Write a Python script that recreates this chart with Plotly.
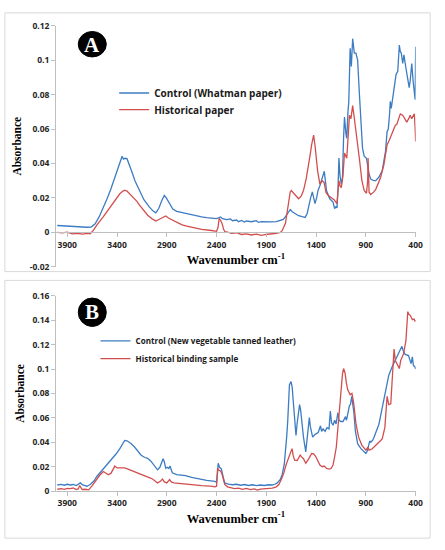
import plotly.graph_objects as go

# ---------------- Panel A: paper ----------------
a_ctrl_wn = [4000, 3950, 3900, 3850, 3800, 3750, 3700, 3660, 3620, 3580, 3540, 3500, 3460, 3420, 3385, 3360, 3349, 3335, 3320, 3300, 3280, 3250, 3220, 3174, 3130, 3076, 3040, 3010, 2980, 2950, 2925, 2905, 2880, 2860, 2840, 2800, 2750, 2700, 2650, 2600, 2550, 2500, 2450, 2400, 2380, 2360, 2340, 2300, 2260, 2240, 2200, 2180, 2150, 2120, 2100, 2050, 2000, 1980, 1950, 1900, 1850, 1800, 1760, 1730, 1708, 1680, 1659, 1640, 1610, 1576, 1540, 1510, 1490, 1478, 1455, 1438, 1425, 1411, 1395, 1380, 1362, 1345, 1329, 1318, 1305, 1296, 1263, 1230, 1214, 1200, 1190, 1180, 1171, 1160, 1147, 1135, 1124, 1115, 1100, 1092, 1080, 1072, 1058, 1046, 1033, 1025, 1016, 1000, 983, 966, 950, 934, 917, 900, 894, 880, 868, 851, 820, 801, 770, 736, 720, 703, 687, 675, 663, 655, 645, 625, 610, 597, 580, 564, 555, 544, 530, 518, 498, 485, 465, 455, 439, 426, 413, 405, 400]
a_ctrl = [0.0040, 0.0038, 0.0036, 0.0034, 0.0035, 0.0032, 0.0030, 0.0031, 0.0050, 0.0090, 0.0140, 0.0195, 0.0255, 0.0320, 0.0375, 0.0420, 0.0442, 0.0425, 0.0430, 0.0428, 0.0400, 0.0350, 0.0300, 0.0243, 0.0190, 0.0148, 0.0125, 0.0114, 0.0140, 0.0185, 0.0214, 0.0200, 0.0176, 0.0150, 0.0135, 0.0122, 0.0115, 0.0108, 0.0100, 0.0095, 0.0090, 0.0086, 0.0082, 0.0080, 0.0085, 0.0090, 0.0080, 0.0074, 0.0078, 0.0068, 0.0072, 0.0062, 0.0069, 0.0060, 0.0066, 0.0062, 0.0068, 0.0058, 0.0062, 0.0060, 0.0061, 0.0063, 0.0068, 0.0075, 0.0091, 0.0120, 0.0133, 0.0120, 0.0108, 0.0097, 0.0091, 0.0087, 0.0110, 0.0148, 0.0200, 0.0235, 0.0200, 0.0167, 0.0200, 0.0245, 0.0271, 0.0300, 0.0337, 0.0355, 0.0290, 0.0243, 0.0195, 0.0176, 0.0138, 0.0150, 0.0142, 0.0250, 0.0432, 0.0330, 0.0280, 0.0320, 0.0550, 0.0670, 0.0570, 0.0546, 0.0700, 0.0755, 0.1068, 0.0963, 0.1124, 0.1080, 0.1040, 0.1040, 0.1000, 0.0812, 0.0622, 0.0489, 0.0442, 0.0430, 0.0430, 0.0380, 0.0337, 0.0309, 0.0300, 0.0300, 0.0320, 0.0357, 0.0420, 0.0470, 0.0584, 0.0600, 0.0679, 0.0760, 0.0720, 0.0800, 0.0850, 0.0916, 0.0935, 0.1087, 0.1050, 0.1040, 0.0980, 0.1030, 0.0954, 0.0906, 0.0840, 0.0880, 0.0980, 0.0880, 0.0783, 0.0770, 0.1077]

a_hist_wn = [4000, 3950, 3900, 3850, 3800, 3750, 3700, 3670, 3640, 3600, 3537, 3490, 3438, 3400, 3372, 3340, 3323, 3300, 3270, 3240, 3200, 3174, 3130, 3092, 3050, 3010, 2970, 2930, 2911, 2880, 2845, 2800, 2746, 2700, 2615, 2550, 2450, 2400, 2385, 2374, 2360, 2345, 2330, 2318, 2280, 2250, 2200, 2150, 2100, 2050, 2000, 1950, 1900, 1850, 1800, 1760, 1741, 1708, 1682, 1660, 1649, 1620, 1590, 1576, 1550, 1527, 1500, 1478, 1460, 1445, 1425, 1410, 1395, 1385, 1362, 1340, 1320, 1300, 1280, 1246, 1220, 1191, 1180, 1171, 1160, 1147, 1130, 1115, 1092, 1080, 1065, 1050, 1033, 1020, 993, 966, 940, 917, 894, 882, 878, 872, 868, 851, 820, 801, 770, 752, 719, 700, 687, 663, 640, 630, 604, 590, 570, 554, 530, 510, 489, 470, 455, 440, 425, 413, 405, 400]
a_hist = [0.0000, -0.0003, 0.0002, -0.0008, -0.0005, -0.0010, -0.0006, -0.0008, 0.0010, 0.0045, 0.0091, 0.0130, 0.0176, 0.0205, 0.0224, 0.0240, 0.0245, 0.0240, 0.0222, 0.0205, 0.0180, 0.0158, 0.0125, 0.0100, 0.0080, 0.0066, 0.0078, 0.0093, 0.0095, 0.0082, 0.0072, 0.0058, 0.0044, 0.0036, 0.0025, 0.0018, 0.0011, 0.0006, 0.0030, 0.0081, 0.0070, 0.0052, 0.0020, 0.0005, 0.0000, -0.0005, -0.0002, -0.0012, -0.0008, -0.0015, -0.0010, -0.0017, -0.0012, -0.0010, -0.0005, 0.0000, 0.0010, 0.0053, 0.0167, 0.0235, 0.0243, 0.0226, 0.0205, 0.0195, 0.0210, 0.0243, 0.0310, 0.0375, 0.0450, 0.0508, 0.0565, 0.0500, 0.0420, 0.0357, 0.0280, 0.0300, 0.0290, 0.0230, 0.0215, 0.0201, 0.0190, 0.0167, 0.0240, 0.0300, 0.0270, 0.0260, 0.0330, 0.0460, 0.0430, 0.0560, 0.0679, 0.0660, 0.0736, 0.0680, 0.0565, 0.0432, 0.0300, 0.0243, 0.0227, 0.0300, 0.0432, 0.0300, 0.0233, 0.0220, 0.0235, 0.0250, 0.0290, 0.0319, 0.0394, 0.0450, 0.0508, 0.0537, 0.0570, 0.0593, 0.0622, 0.0626, 0.0660, 0.0688, 0.0680, 0.0660, 0.0640, 0.0660, 0.0680, 0.0660, 0.0680, 0.0688, 0.0600, 0.0527]

# ---------------- Panel B: leather ----------------
b_ctrl_wn = [4000, 3960, 3930, 3900, 3870, 3840, 3810, 3780, 3768, 3745, 3720, 3702, 3669, 3630, 3603, 3550, 3505, 3450, 3406, 3370, 3340, 3323, 3300, 3260, 3224, 3190, 3158, 3120, 3092, 3060, 3043, 3015, 2993, 2970, 2950, 2937, 2925, 2911, 2895, 2880, 2868, 2855, 2845, 2800, 2713, 2650, 2581, 2500, 2417, 2400, 2390, 2384, 2370, 2360, 2351, 2335, 2318, 2280, 2240, 2200, 2160, 2120, 2080, 2040, 2000, 1960, 1920, 1880, 1840, 1810, 1790, 1760, 1741, 1720, 1708, 1695, 1685, 1668, 1652, 1640, 1630, 1619, 1602, 1590, 1575, 1566, 1555, 1540, 1527, 1504, 1490, 1478, 1468, 1458, 1435, 1410, 1379, 1356, 1345, 1330, 1310, 1290, 1270, 1257, 1245, 1230, 1214, 1200, 1181, 1170, 1150, 1130, 1115, 1105, 1095, 1080, 1065, 1055, 1042, 1030, 1020, 1006, 983, 950, 917, 900, 885, 874, 862, 850, 830, 818, 790, 769, 736, 703, 670, 637, 604, 571, 538, 525, 505, 472, 460, 446, 433, 423, 406, 400]
b_ctrl = [0.0050, 0.0055, 0.0048, 0.0056, 0.0050, 0.0054, 0.0045, 0.0060, 0.0067, 0.0050, 0.0045, 0.0040, 0.0054, 0.0085, 0.0120, 0.0170, 0.0214, 0.0262, 0.0308, 0.0350, 0.0395, 0.0415, 0.0412, 0.0390, 0.0361, 0.0330, 0.0294, 0.0275, 0.0268, 0.0245, 0.0228, 0.0195, 0.0174, 0.0195, 0.0230, 0.0265, 0.0240, 0.0187, 0.0195, 0.0185, 0.0205, 0.0175, 0.0150, 0.0135, 0.0126, 0.0112, 0.0099, 0.0088, 0.0080, 0.0072, 0.0150, 0.0228, 0.0195, 0.0190, 0.0180, 0.0120, 0.0067, 0.0058, 0.0052, 0.0056, 0.0048, 0.0054, 0.0046, 0.0052, 0.0045, 0.0050, 0.0046, 0.0052, 0.0050, 0.0058, 0.0067, 0.0095, 0.0134, 0.0220, 0.0308, 0.0450, 0.0575, 0.0870, 0.0897, 0.0850, 0.0740, 0.0629, 0.0455, 0.0560, 0.0690, 0.0709, 0.0660, 0.0520, 0.0442, 0.0321, 0.0440, 0.0540, 0.0602, 0.0530, 0.0442, 0.0465, 0.0480, 0.0535, 0.0490, 0.0510, 0.0490, 0.0520, 0.0510, 0.0656, 0.0560, 0.0540, 0.0580, 0.0550, 0.0642, 0.0580, 0.0570, 0.0570, 0.0600, 0.0610, 0.0580, 0.0640, 0.0700, 0.0709, 0.0776, 0.0700, 0.0640, 0.0495, 0.0388, 0.0348, 0.0321, 0.0308, 0.0330, 0.0360, 0.0410, 0.0400, 0.0420, 0.0442, 0.0500, 0.0548, 0.0682, 0.0816, 0.0950, 0.1017, 0.1070, 0.1124, 0.1186, 0.1150, 0.1120, 0.1110, 0.1080, 0.1044, 0.1100, 0.1030, 0.1017, 0.1000]

b_hist_wn = [4000, 3960, 3930, 3900, 3870, 3840, 3810, 3790, 3775, 3750, 3720, 3685, 3653, 3620, 3570, 3537, 3500, 3488, 3460, 3440, 3422, 3400, 3370, 3340, 3323, 3290, 3250, 3208, 3150, 3109, 3070, 3043, 3015, 2993, 2965, 2944, 2925, 2900, 2872, 2855, 2830, 2760, 2700, 2647, 2550, 2460, 2417, 2400, 2390, 2375, 2360, 2345, 2330, 2318, 2290, 2260, 2220, 2180, 2140, 2100, 2060, 2020, 1990, 1960, 1920, 1880, 1840, 1800, 1774, 1750, 1725, 1700, 1675, 1655, 1642, 1630, 1616, 1590, 1575, 1560, 1545, 1527, 1504, 1485, 1470, 1445, 1425, 1405, 1379, 1362, 1339, 1320, 1296, 1270, 1250, 1230, 1214, 1197, 1185, 1171, 1160, 1147, 1135, 1124, 1110, 1095, 1082, 1058, 1040, 1023, 999, 973, 940, 900, 880, 868, 840, 818, 790, 769, 736, 709, 700, 687, 678, 670, 650, 640, 630, 617, 604, 578, 564, 550, 522, 498, 488, 479, 470, 455, 433, 416, 406, 400]
b_hist = [0.0015, 0.0020, 0.0015, 0.0022, 0.0020, 0.0025, 0.0012, 0.0018, 0.0045, 0.0013, 0.0015, 0.0010, 0.0040, 0.0080, 0.0134, 0.0160, 0.0140, 0.0134, 0.0147, 0.0180, 0.0205, 0.0190, 0.0190, 0.0188, 0.0190, 0.0180, 0.0168, 0.0153, 0.0133, 0.0120, 0.0108, 0.0099, 0.0080, 0.0067, 0.0080, 0.0099, 0.0075, 0.0067, 0.0094, 0.0075, 0.0067, 0.0060, 0.0057, 0.0054, 0.0045, 0.0040, 0.0035, 0.0040, 0.0187, 0.0170, 0.0165, 0.0140, 0.0080, 0.0054, 0.0035, 0.0027, 0.0020, 0.0025, 0.0015, 0.0022, 0.0012, 0.0018, 0.0008, 0.0016, 0.0018, 0.0022, 0.0025, 0.0035, 0.0054, 0.0095, 0.0147, 0.0220, 0.0281, 0.0320, 0.0348, 0.0290, 0.0254, 0.0250, 0.0270, 0.0294, 0.0280, 0.0265, 0.0228, 0.0250, 0.0270, 0.0308, 0.0305, 0.0285, 0.0240, 0.0214, 0.0200, 0.0205, 0.0187, 0.0180, 0.0185, 0.0214, 0.0280, 0.0361, 0.0480, 0.0629, 0.0750, 0.0870, 0.0960, 0.1004, 0.0970, 0.0880, 0.0830, 0.0789, 0.0800, 0.0723, 0.0548, 0.0442, 0.0375, 0.0335, 0.0360, 0.0335, 0.0345, 0.0361, 0.0385, 0.0401, 0.0428, 0.0522, 0.0650, 0.0776, 0.0740, 0.0709, 0.0715, 0.0850, 0.0977, 0.1164, 0.1070, 0.1030, 0.1004, 0.1070, 0.1124, 0.1230, 0.1350, 0.1470, 0.1450, 0.1440, 0.1405, 0.1410, 0.1390, 0.1400]

# ---------------- tick labels & texts ----------------
x_tick_vals = [3900, 3400, 2900, 2400, 1900, 1400, 900, 400]
x_tick_text = ["3900", "3400", "2900", "2400", "1900", "1400", "900", "400"]
ya_tick_vals = [-0.02, 0, 0.02, 0.04, 0.06, 0.08, 0.1, 0.12]
ya_tick_text = ["-0.02", "0", "0.02", "0.04", "0.06", "0.08", "0.1", "0.12"]
yb_tick_vals = [0, 0.02, 0.04, 0.06, 0.08, 0.1, 0.12, 0.14, 0.16]
yb_tick_text = ["0", "0.02", "0.04", "0.06", "0.08", "0.1", "0.12", "0.14", "0.16"]
names_a = ["Control (Whatman paper)", "Historical paper"]
names_b = ["Control (New vegetable tanned leather)", "Historical binding sample"]
x_title = "Wavenumber cm<sup>-1</sup>"
y_title = "Absorbance"

BLUE = "#3C7CC2"
RED = "#D24E4E"
W, H = 445, 550


def px(x):
    return x / W


def py(y):
    return 1 - y / H


fig = go.Figure()
fig.add_trace(go.Scatter(x=a_ctrl_wn, y=a_ctrl, mode="lines", name=names_a[0],
                         line=dict(color=BLUE, width=1.3), xaxis="x", yaxis="y", legend="legend"))
fig.add_trace(go.Scatter(x=a_hist_wn, y=a_hist, mode="lines", name=names_a[1],
                         line=dict(color=RED, width=1.3), xaxis="x", yaxis="y", legend="legend2"))
fig.add_trace(go.Scatter(x=b_ctrl_wn, y=b_ctrl, mode="lines", name=names_b[0],
                         line=dict(color=BLUE, width=1.3), xaxis="x2", yaxis="y2", legend="legend3"))
fig.add_trace(go.Scatter(x=b_hist_wn, y=b_hist, mode="lines", name=names_b[1],
                         line=dict(color=RED, width=1.3), xaxis="x2", yaxis="y2", legend="legend4"))

AXC = "#BFBFBF"
tickfont = dict(family="Open Sans", size=8.5, color="#262626", weight="bold")
titlefont_x = dict(family="Liberation Serif", size=12.5, color="#000000", weight="bold")
titlefont_y = dict(family="Liberation Serif", size=11.5, color="#000000", weight="bold")
x_dom = [px(57), px(422.3)]
x_rng = [4012, 400]

common_x = dict(domain=x_dom, range=x_rng, showline=True, linecolor=AXC, linewidth=1,
                ticks="outside", ticklen=4, tickcolor=AXC, tickvals=x_tick_vals,
                ticktext=x_tick_text, tickfont=tickfont, showgrid=False, zeroline=False,
                title=dict(text=x_title, font=titlefont_x, standoff=6))
common_y = dict(showline=True, linecolor=AXC, linewidth=1, ticks="outside", ticklen=4,
                tickcolor=AXC, tickfont=tickfont, showgrid=False, zeroline=False,
                title=dict(text=y_title, font=titlefont_y, standoff=5))

leg_a_font = dict(family="Open Sans", size=10, color="#1a1a1a", weight="bold")
leg_b_font = dict(family="Open Sans", size=8.1, color="#1a1a1a", weight="bold")


def leg(x, y, font):
    return dict(x=px(x), y=py(y), xanchor="left", yanchor="top", bgcolor="rgba(0,0,0,0)",
                font=font, tracegroupgap=0)


fig.update_layout(
    width=W, height=H, margin=dict(l=0, r=0, t=0, b=0),
    paper_bgcolor="white", plot_bgcolor="white",
    xaxis=dict(common_x, anchor="free", position=py(231)),
    yaxis=dict(common_y, domain=[py(266.2), py(20)], range=[-0.02, 0.12], anchor="x",
               tickvals=ya_tick_vals, ticktext=ya_tick_text),
    xaxis2=dict(common_x, anchor="y2"),
    yaxis2=dict(common_y, domain=[py(495), py(295.7)], range=[0, 0.16], anchor="x2",
                tickvals=yb_tick_vals, ticktext=yb_tick_text),
    legend=leg(116, 74, leg_a_font),
    legend2=leg(116, 91, leg_a_font),
    legend3=leg(97, 327, leg_b_font),
    legend4=leg(97, 345, leg_b_font),
    showlegend=True,
)

shapes = [
    dict(type="rect", xref="paper", yref="paper", x0=px(5), x1=px(437), y0=py(271), y1=py(7),
         line=dict(color="#D9D9D9", width=1), fillcolor="rgba(0,0,0,0)", layer="below"),
    dict(type="rect", xref="paper", yref="paper", x0=px(5), x1=px(437), y0=py(543), y1=py(280),
         line=dict(color="#D9D9D9", width=1), fillcolor="rgba(0,0,0,0)", layer="below"),
    dict(type="circle", xref="paper", yref="paper", x0=px(79.5), x1=px(108), y0=py(52), y1=py(26),
         line=dict(color="black", width=1), fillcolor="black"),
    dict(type="circle", xref="paper", yref="paper", x0=px(79.5), x1=px(108), y0=py(327), y1=py(298),
         line=dict(color="black", width=1), fillcolor="black"),
]
fig.update_layout(shapes=shapes)
fig.add_annotation(x=px(93.8), y=py(39.5), xref="paper", yref="paper", text="A", showarrow=False,
                   xanchor="center", yanchor="middle",
                   font=dict(family="Liberation Serif", size=21, color="white", weight="bold"))
fig.add_annotation(x=px(93.8), y=py(312.5), xref="paper", yref="paper", text="B", showarrow=False,
                   xanchor="center", yanchor="middle",
                   font=dict(family="Liberation Serif", size=21, color="white", weight="bold"))

fig.write_html("out.html", config={"displayModeBar": False},
               post_script="document.body.style.margin='0px';")
